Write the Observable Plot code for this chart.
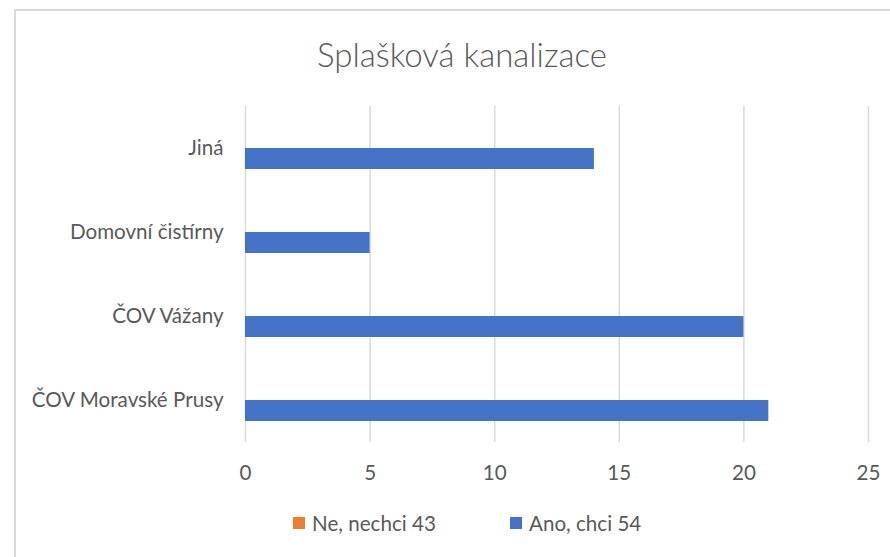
<!DOCTYPE html>
<html>
<head>
<meta charset="utf-8">
<script src="https://cdn.jsdelivr.net/npm/d3@7"></script>
<script src="https://cdn.jsdelivr.net/npm/@observablehq/plot@0.6"></script>
<style>
  html, body { margin: 0; padding: 0; background: #fff; }
  body { width: 890px; height: 557px; position: relative; overflow: hidden; font-family: Lato, "Open Sans", sans-serif; color: #595959; }
  #frame { position: absolute; left: 14px; top: 9px; width: 900px; height: 600px; border-left: 2px solid #d9d9d9; border-top: 2px solid #d9d9d9; }
  #title { position: absolute; left: 0; width: 924px; top: 34px; text-align: center; font-size: 33px; font-weight: 300; line-height: 40px; }
  #chart { position: absolute; left: 0; top: 100px; }
  #legend { position: absolute; left: 0; top: 511px; width: 890px; height: 24px; }
  .item { position: absolute; top: 0; display: flex; align-items: center; font-size: 20.6px; line-height: 24px; white-space: nowrap; }
  .sw { width: 12px; height: 12px; margin-right: 7px; }
</style>
</head>
<body>
<div id="frame"></div>
<div id="title">Splašková kanalizace</div>
<div id="chart"></div>
<div id="legend"></div>
<script>
const categories = ["Jiná", "Domovní čistírny", "ČOV Vážany", "ČOV Moravské Prusy"];
const series = ["Ne, nechci 43", "Ano, chci 54"];
const colors = ["#ED7D31", "#4472C4"];
const neValues = [0, 0, 0, 0];
const anoValues = [14, 5, 20, 21];
const xTicks = [0, 5, 10, 15, 20, 25];

const data = [];
categories.forEach((c, i) => {
  data.push({category: c, series: series[0], value: neValues[i]});
  data.push({category: c, series: series[1], value: anoValues[i]});
});

const chart = Plot.plot({
  width: 890,
  height: 395,
  marginLeft: 245,
  marginRight: 22,
  marginTop: 5,
  marginBottom: 52,
  style: {fontFamily: "Lato, 'Open Sans', sans-serif", fontSize: "20.6px", color: "#595959", background: "transparent"},
  x: {domain: [0, 25], ticks: xTicks, tickSize: 0, tickPadding: 23, label: null},
  y: {domain: series, axis: null, paddingInner: 0, paddingOuter: 0.965},
  fy: {domain: categories, padding: 0, axis: "left", tickSize: 0, tickPadding: 22, label: null},
  color: {domain: series, range: colors},
  marks: [
    Plot.gridX(xTicks, {stroke: "#d9d9d9", strokeOpacity: 1, strokeWidth: 1.5}),
    Plot.barX(data, {x: "value", y: "series", fy: "category", fill: "series"})
  ]
});
document.getElementById("chart").appendChild(chart);

const legend = document.getElementById("legend");
const legendX = [293, 510];
series.forEach((s, i) => {
  const item = document.createElement("div");
  item.className = "item";
  item.style.left = legendX[i] + "px";
  const sw = document.createElement("span");
  sw.className = "sw";
  sw.style.background = colors[i];
  const t = document.createElement("span");
  t.textContent = s;
  item.appendChild(sw);
  item.appendChild(t);
  legend.appendChild(item);
});
</script>
</body>
</html>
